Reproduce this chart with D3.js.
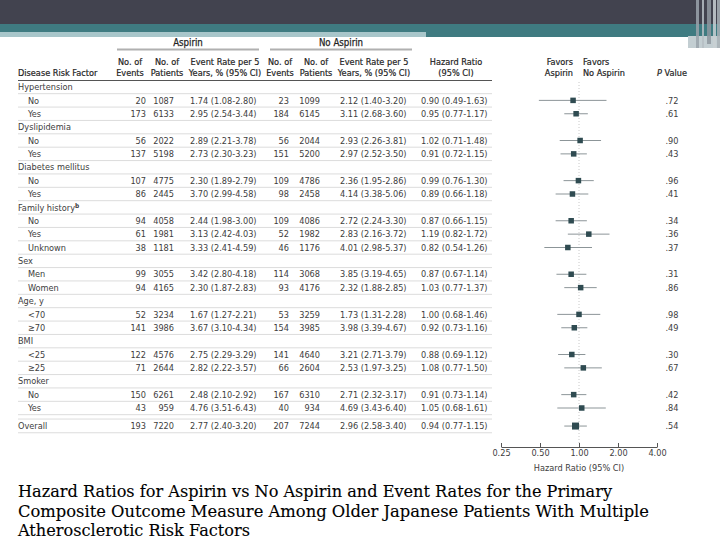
<!DOCTYPE html>
<html><head><meta charset="utf-8">
<script src="https://cdn.jsdelivr.net/npm/d3@7"></script>
<style>
html,body{margin:0;padding:0;background:#fff;}
svg{display:block;}
.t{font-family:"DejaVu Sans Condensed","DejaVu Sans",sans-serif;font-stretch:condensed;}
.cap{font-family:"DejaVu Serif",serif;}
</style></head>
<body>
<svg id="c" width="720" height="540"></svg>
<script>
// ---------- data ----------
const rowLabels = ["Hypertension","No","Yes","Dyslipidemia","No","Yes","Diabetes mellitus","No","Yes",
  "Family history","No","Yes","Unknown","Sex","Men","Women","Age, y","<70","\u226570","BMI","<25","\u226525",
  "Smoker","No","Yes","Overall"];
const rowIsGroup = [1,0,0,1,0,0,1,0,0,1,0,0,0,1,0,0,1,0,0,1,0,0,1,0,0,2];
const aspEvents   = [null,20,173,null,56,137,null,107,86,null,94,61,38,null,99,94,null,52,141,null,122,71,null,150,43,193];
const aspPatients = [null,1087,6133,null,2022,5198,null,4775,2445,null,4058,1981,1181,null,3055,4165,null,3234,3986,null,4576,2644,null,6261,959,7220];
const aspRate   = [null,1.74,2.95,null,2.89,2.73,null,2.30,3.70,null,2.44,3.13,3.33,null,3.42,2.30,null,1.67,3.67,null,2.75,2.82,null,2.48,4.76,2.77];
const aspRateLo = [null,1.08,2.54,null,2.21,2.30,null,1.89,2.99,null,1.98,2.42,2.41,null,2.80,1.87,null,1.27,3.10,null,2.29,2.22,null,2.10,3.51,2.40];
const aspRateHi = [null,2.80,3.44,null,3.78,3.23,null,2.79,4.58,null,3.00,4.03,4.59,null,4.18,2.83,null,2.21,4.34,null,3.29,3.57,null,2.92,6.43,3.20];
const noEvents   = [null,23,184,null,56,151,null,109,98,null,109,52,46,null,114,93,null,53,154,null,141,66,null,167,40,207];
const noPatients = [null,1099,6145,null,2044,5200,null,4786,2458,null,4086,1982,1176,null,3068,4176,null,3259,3985,null,4640,2604,null,6310,934,7244];
const noRate   = [null,2.12,3.11,null,2.93,2.97,null,2.36,4.14,null,2.72,2.83,4.01,null,3.85,2.32,null,1.73,3.98,null,3.21,2.53,null,2.71,4.69,2.96];
const noRateLo = [null,1.40,2.68,null,2.26,2.52,null,1.95,3.38,null,2.24,2.16,2.98,null,3.19,1.88,null,1.31,3.39,null,2.71,1.97,null,2.32,3.43,2.58];
const noRateHi = [null,3.20,3.60,null,3.81,3.50,null,2.86,5.06,null,3.30,3.72,5.37,null,4.65,2.85,null,2.28,4.67,null,3.79,3.25,null,3.17,6.40,3.40];
const hr   = [null,0.90,0.95,null,1.02,0.91,null,0.99,0.89,null,0.87,1.19,0.82,null,0.87,1.03,null,1.00,0.92,null,0.88,1.08,null,0.91,1.05,0.94];
const hrLo = [null,0.49,0.77,null,0.71,0.72,null,0.76,0.66,null,0.66,0.82,0.54,null,0.67,0.77,null,0.68,0.73,null,0.69,0.77,null,0.73,0.68,0.77];
const hrHi = [null,1.63,1.17,null,1.48,1.15,null,1.30,1.18,null,1.15,1.72,1.26,null,1.14,1.37,null,1.46,1.16,null,1.12,1.50,null,1.14,1.61,1.15];
const pValues = [null,".72",".61",null,".90",".43",null,".96",".41",null,".34",".36",".37",null,".31",".86",null,".98",".49",null,".30",".67",null,".42",".84",".54"];
const xTicks = [0.25,0.5,1,2,4];
const captionLines = ["Hazard Ratios for Aspirin vs No Aspirin and Event Rates for the Primary",
  "Composite Outcome Measure Among Older Japanese Patients With Multiple",
  "Atherosclerotic Risk Factors"];

// ---------- drawing ----------
const svg = d3.select("#c");
const f2 = v => v.toFixed(2);
const rateTxt = (r,l,h) => `${f2(r)} (${f2(l)}-${f2(h)})`;
const FS = 9.1;

// banner
svg.append("rect").attr("x",0).attr("y",0).attr("width",720).attr("height",24).attr("fill","#42434f");
svg.append("rect").attr("x",0).attr("y",24).attr("width",720).attr("height",13).attr("fill","#3f7b81");
svg.append("rect").attr("x",0).attr("y",32).attr("width",426).attr("height",5).attr("fill","#a8c6ca");
svg.append("rect").attr("x",688).attr("y",36).attr("width",32).attr("height",12).attr("fill","#c3ced2");
[[696,3,"#9aa3ab",48],[702,2,"#b6bec4",48],[707,4,"#8f98a0",44],[713,3,"#c9d0d4",48],[717,3,"#a9b1b7",48]].forEach(d=>{
  svg.append("rect").attr("x",d[0]).attr("y",0).attr("width",d[1]).attr("height",d[3]).attr("fill",d[2]).attr("opacity",0.85);
});

// row positions
const rowIndex = rowLabels.map((d,i)=> i===25 ? 25.35 : i);
const y = d3.scaleLinear().domain([0,25]).range([87, 87+25*13.375]);
const x = d3.scaleLog().base(2).domain([0.25,4]).range([501,657]);

const g = svg.append("g").attr("class","t");
const txtCol = "#3d3d3d", hdCol = "#1f1f1f";

// group headers
[["Aspirin",117,259],["No Aspirin",270,412]].forEach(d=>{
  g.append("text").attr("x",(d[1]+d[2])/2).attr("y",46).attr("text-anchor","middle")
    .attr("font-size",9.6).attr("fill",hdCol).attr("stroke",hdCol).attr("stroke-width",0.25).text(d[0]);
  g.append("line").attr("x1",d[1]).attr("x2",d[2]).attr("y1",49.5).attr("y2",49.5)
    .attr("stroke","#b0b0b0").attr("stroke-width",2);
});

// column headers
const hdr = (xx,yy,t,anchor)=> g.append("text").attr("x",xx).attr("y",yy).attr("text-anchor",anchor||"middle")
  .attr("font-size",FS).attr("fill",hdCol).attr("stroke",hdCol).attr("stroke-width",0.2).text(t);
hdr(18,76,"Disease Risk Factor","start");
hdr(130,65,"No. of"); hdr(130,76,"Events");
hdr(167,65,"No. of"); hdr(167,76,"Patients");
hdr(225,65,"Event Rate per 5"); hdr(225,76,"Years, % (95% CI)");
hdr(280,65,"No. of"); hdr(280,76,"Events");
hdr(316,65,"No. of"); hdr(316,76,"Patients");
hdr(374,65,"Event Rate per 5"); hdr(374,76,"Years, % (95% CI)");
hdr(456,65,"Hazard Ratio"); hdr(456,76,"(95% CI)");
hdr(573,65,"Favors","end"); hdr(573,76,"Aspirin","end");
hdr(583,65,"Favors","start"); hdr(583,76,"No Aspirin","start");
const pv = hdr(672,76,"","middle");
pv.append("tspan").attr("font-style","italic").text("P");
pv.append("tspan").text(" Value");

// header rule
g.append("line").attr("x1",18).attr("x2",492).attr("y1",80.5).attr("y2",80.5).attr("stroke","#555").attr("stroke-width",1.2);

// row separators
rowLabels.forEach((d,i)=>{
  const yy = y(rowIndex[i]) + 6.7;
  g.append("line").attr("x1",18).attr("x2",492).attr("y1",yy).attr("y2",yy).attr("stroke","#dcdcdc").attr("stroke-width",1);
});
g.append("line").attr("x1",18).attr("x2",492).attr("y1",y(25.35)-7).attr("y2",y(25.35)-7).attr("stroke","#dcdcdc");

// reference line at HR = 1
g.append("line").attr("x1",x(1)).attr("x2",x(1)).attr("y1",82).attr("y2",444)
  .attr("stroke","#c8c8c8").attr("stroke-width",1).attr("stroke-dasharray","1,2");

// rows
rowLabels.forEach((lab,i)=>{
  const yy = y(rowIndex[i]) + 3.2;
  const lt = g.append("text").attr("x", rowIsGroup[i] ? 18 : 28).attr("y",yy).attr("font-size",FS).attr("fill",txtCol);
  lt.append("tspan").text(lab);
  if (lab==="Family history") lt.append("tspan").attr("font-size",6.5).attr("font-weight",700).attr("dy",-3).text("b");
  if (rowIsGroup[i]===1) return;
  const cell = (xx,t,anchor)=> g.append("text").attr("x",xx).attr("y",yy).attr("text-anchor",anchor)
    .attr("font-size",FS).attr("fill",txtCol).text(t);
  cell(146,aspEvents[i],"end");
  cell(174,aspPatients[i],"end");
  cell(190,rateTxt(aspRate[i],aspRateLo[i],aspRateHi[i]),"start");
  cell(289,noEvents[i],"end");
  cell(320,noPatients[i],"end");
  cell(340,rateTxt(noRate[i],noRateLo[i],noRateHi[i]),"start");
  cell(421,rateTxt(hr[i],hrLo[i],hrHi[i]),"start");
  cell(672,pValues[i],"middle");
  // forest
  const cy = y(rowIndex[i]);
  g.append("line").attr("x1",x(hrLo[i])).attr("x2",x(hrHi[i])).attr("y1",cy).attr("y2",cy)
    .attr("stroke","#8c9598").attr("stroke-width",1);
  const s = rowIsGroup[i]===2 ? 7 : 5.5;
  g.append("rect").attr("x",x(hr[i])-s/2).attr("y",cy-s/2).attr("width",s).attr("height",s).attr("fill","#2f4b51");
});

// axis
const axis = d3.axisBottom(x).tickValues(xTicks).tickFormat(d=>d.toFixed(2)).tickSizeInner(-4).tickSizeOuter(0).tickPadding(4);
const ag = svg.append("g").attr("class","t").attr("transform","translate(0,447)").call(axis);
ag.select(".domain").attr("stroke","#555");
ag.selectAll(".tick line").attr("stroke","#555");
ag.selectAll(".tick text").attr("font-family",null).attr("font-size",FS).attr("fill",txtCol).attr("dy","0.55em");
svg.append("text").attr("class","t").attr("x",x(1)).attr("y",471).attr("text-anchor","middle")
  .attr("font-size",FS).attr("fill",txtCol).text("Hazard Ratio (95% CI)");

// caption
const capW = [594,631,232];
captionLines.forEach((t,i)=>{
  svg.append("text").attr("class","cap").attr("x",18).attr("y",497+i*19.5).attr("font-size",16)
    .attr("fill","#000").attr("stroke","#000").attr("stroke-width",0.12)
    .attr("textLength",capW[i]).attr("lengthAdjust","spacingAndGlyphs").text(t);
});
</script>
</body></html>
